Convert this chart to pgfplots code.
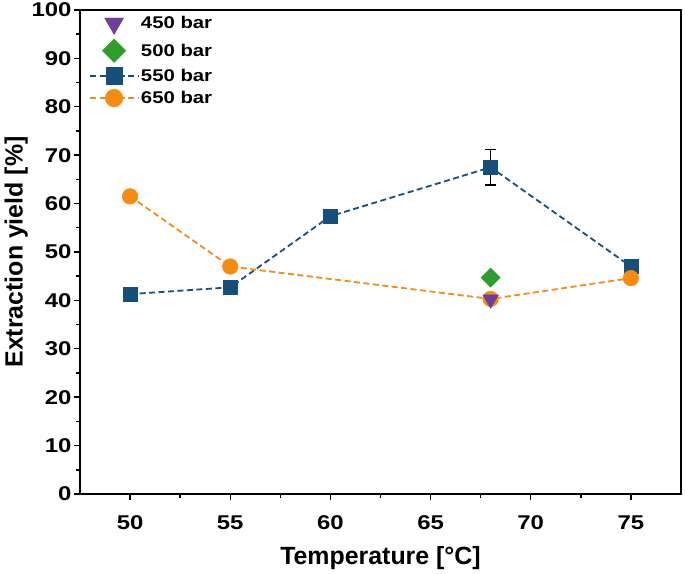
\documentclass[border=0pt]{standalone}
\usepackage{fontspec}
\setmainfont{Liberation Sans}
\newfontfamily\wide[FakeStretch=1.2]{Liberation Sans}
\usepackage{pgfplots}
\pgfplotsset{compat=1.18}
\definecolor{cblue}{RGB}{22,80,122}
\definecolor{corange}{RGB}{246,139,20}
\definecolor{cgreen}{RGB}{45,158,45}
\definecolor{cpurple}{RGB}{110,62,158}
\begin{document}
\begin{tikzpicture}
\useasboundingbox (-80bp,-80bp) rectangle (605bp,494bp);
\begin{axis}[
  at={(0,0)}, anchor=south west,
  width=601bp, height=484bp, scale only axis,
  xmin=47.5, xmax=77.5, ymin=0, ymax=100,
  xtick={50,55,60,65,70,75}, ytick={0,10,...,100},
  minor x tick num=1, minor y tick num=1,
  tick align=outside, xtick pos=bottom, ytick pos=left,
  major tick length=6bp, minor tick length=4bp,
  axis line style={line width=1.6bp},
  every tick/.style={black, line width=1.4bp},
  /pgf/number format/assume math mode=true,
  tick label style={font=\wide\bfseries\fontsize{20}{20}\selectfont},
  xticklabel style={yshift=-12bp},
  yticklabel style={xshift=1bp},
  xlabel={Temperature [°C]}, ylabel={Extraction yield [\%]},
  label style={font=\bfseries\fontsize{25}{25}\selectfont},
  xlabel style={yshift=-10bp},
  ylabel style={yshift=-3bp},
  legend style={at={(0.01,0.995)}, anchor=north west, draw=none, fill=none,
    font=\wide\bfseries\fontsize{17}{17}\selectfont, row sep=4.5bp,
    cells={anchor=west}},
  legend cell align=left,
  legend image code/.code={
    \draw[mark repeat=2,mark phase=2] plot coordinates {(0bp,0bp)(24bp,0bp)(48bp,0bp)};},
]
\addlegendimage{only marks, mark=triangle*, mark options={rotate=180}, mark size=11bp, color=cpurple}
\addlegendentry{450 bar}
\addlegendimage{only marks, mark=square*, mark options={rotate=45}, mark size=8.3bp, color=cgreen}
\addlegendentry{500 bar}
\addlegendimage{cblue, line width=1.8bp, dash pattern=on 6bp off 3.5bp, mark=square*, mark size=8.2bp, mark options={solid, line width=0.5bp}}
\addlegendentry{550 bar}
\addlegendimage{corange, line width=1.8bp, dash pattern=on 6bp off 3.5bp, mark=*, mark size=8.8bp, mark options={solid, line width=0.5bp}}
\addlegendentry{650 bar}

\addplot[cblue, line width=1.8bp, dash pattern=on 6bp off 3.5bp, mark=square*, mark size=7bp, mark options={solid, line width=0.5bp},
  error bars/.cd, y dir=both, y explicit, error bar style={black, line width=1.6bp, solid}, error mark options={black, line width=1.6bp, mark size=5.5bp, rotate=90}]
  coordinates {(50,41.3) (55,42.7) (60,57.4) (68,67.5) +- (0,3.7) (75,47.0)};
\addplot[corange, line width=1.8bp, dash pattern=on 6bp off 3.5bp, mark=*, mark size=7.8bp, mark options={solid, line width=0.5bp}]
  coordinates {(50,61.5) (55,47.0) (68,40.3) (75,44.6)};
\addplot[only marks, mark=square*, mark options={rotate=45}, mark size=6.8bp, color=cgreen]
  coordinates {(68,44.7)};
\addplot[only marks, mark=triangle*, mark options={rotate=180}, mark size=9bp, color=cpurple]
  coordinates {(68,40.2)};
\end{axis}
\end{tikzpicture}
\end{document}
